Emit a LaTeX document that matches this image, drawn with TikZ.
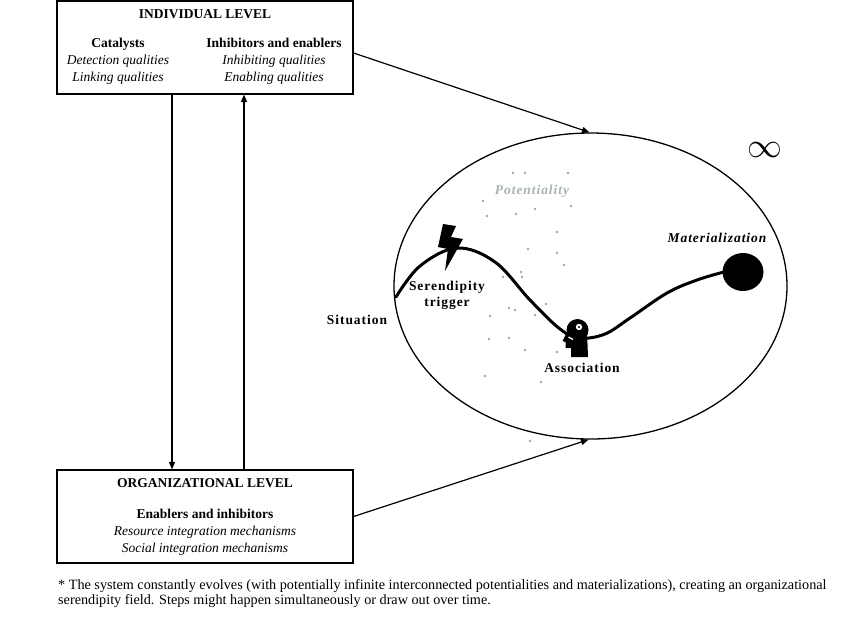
\documentclass[tikz,border=0pt]{standalone}
\usepackage{fontspec}
\setmainfont{Liberation Serif}
\newfontfamily\spacedfont[LetterSpace=7]{Liberation Serif}
\usetikzlibrary{shapes.geometric,arrows.meta}
\definecolor{dotgray}{HTML}{9EA8A8}
\definecolor{potgray}{HTML}{A9B3B3}
\tikzset{
  lvlbox/.style={draw, line width=1.1pt, inner sep=0pt},
  txt/.style={inner sep=0pt, align=center, font=\fontsize{13.5}{17}\selectfont},
  ttl/.style={inner sep=0pt, font=\fontsize{13.5}{16}\selectfont\bfseries},
  stagelbl/.style={inner sep=0pt, align=center, font=\fontsize{13.5}{16}\selectfont\spacedfont\bfseries},
  conn/.style={line width=1.2pt, -{Triangle[length=7.5pt,width=6pt]}},
  vconn/.style={line width=1.1pt, -{Triangle[length=7.5pt,width=6pt]}}
}
\begin{document}
\begin{tikzpicture}[x=1pt,y=-1pt]
\useasboundingbox (0,0) rectangle (850,633);
% boxes
\node[lvlbox, minimum width=296pt, minimum height=93pt] (top) at (205,47.5) {};
\node[lvlbox, minimum width=296pt, minimum height=93pt] (bot) at (205,516.5) {};
% top box text
\node[ttl] (toptitle) at (205,14) {INDIVIDUAL LEVEL};
\node[txt] (cat) at (118,61.5) {\textbf{Catalysts}\\ \textit{Detection qualities}\\ \textit{Linking qualities}};
\node[txt] (inh) at (274,61.5) {\textbf{Inhibitors and enablers}\\ \textit{Inhibiting qualities}\\ \textit{Enabling qualities}};
% bottom box text
\node[ttl] (bottitle) at (205,483) {ORGANIZATIONAL LEVEL};
\node[txt] (enab) at (205,532.5) {\textbf{Enablers and inhibitors}\\ \textit{Resource integration mechanisms}\\ \textit{Social integration mechanisms}};
% big ellipse
\node[draw, ellipse, line width=1.3pt, minimum width=393pt, minimum height=306pt, inner sep=0pt] (ell) at (590.5,286) {};
% vertical connectors
\draw[vconn] ([xshift=-33pt]top.south) -- ([xshift=-33pt]bot.north);
\draw[vconn] ([xshift=39pt]bot.north) -- ([xshift=39pt]top.south);
% connectors to ellipse
\draw[conn] ([yshift=-5.5pt]top.east) -- ([xshift=-1pt]ell.north);
\draw[conn] (bot.east) -- ([xshift=-2pt]ell.south);
% dots of potentiality
\foreach \px/\py in {513/173,525/173,568/173,483/201,571/206,487/216,516/214,535/209,557/232,528/249,557/253,564/265,521/272,522/277,503/277,509/308,515/310,490/316,546/304,535/315,489/339,509/338,525/350,557/352,485/376,541/382,530/441}
  \fill[dotgray] (\px,\py) circle (1.4pt);
% materialization blob
\node[fill=black, ellipse, minimum width=41pt, minimum height=38pt, inner sep=0pt] (mat) at (743,272) {};
% the path
\draw[line width=3pt, line cap=round] plot[smooth, tension=0.6] coordinates {(396,297) (420,266) (457,248) (495,262) (530,300) (560,329) (580,338) (605,334) (630,318) (667,293) (697,280) (724,272)};
% lightning bolt
\fill[black] (443,224) -- (456,226) -- (451,237) -- (463,239) -- (445,271) -- (448,249) -- (438,247) -- cycle;
% head icon
\fill[black] (577.5,330) circle (11pt);
\fill[black] (567,332) -- (587,331) -- (588,357) -- (571,357) -- (571,348) -- (565.5,348) -- (565.5,342) -- (562.5,341) -- cycle;
\fill[white] (579,327) circle (3.2pt);
\fill[black] (579,327) circle (1.1pt);
\draw[white, line width=1.3pt] (568.5,337) -- (573,339.5);
% labels
\node[stagelbl] (sit) at (357,320) {Situation};
\node[stagelbl] (trig) at (447,295.5) {Serendipity\\ trigger};
\node[stagelbl] (assoc) at (582,368) {Association};
\node[stagelbl, font=\fontsize{13.5}{16}\selectfont\spacedfont\bfseries\itshape] (matl) at (717,237.5) {Materialization};
\node[stagelbl, font=\fontsize{13.5}{16}\selectfont\spacedfont\bfseries\itshape, text=potgray] (pot) at (532,191) {Potentiality};
\node[inner sep=0pt, scale=1.4] (inf) at (765,150) {\Huge$\infty$};
% footnote
\node[inner sep=0pt, anchor=north west, align=left, font=\fontsize{14.2}{15.5}\selectfont] (note) at (58,579) {* The system constantly evolves (with potentially infinite interconnected potentialities and materializations), creating an organizational\\ serendipity field. Steps might happen simultaneously or draw out over time.};
\end{tikzpicture}
\end{document}
